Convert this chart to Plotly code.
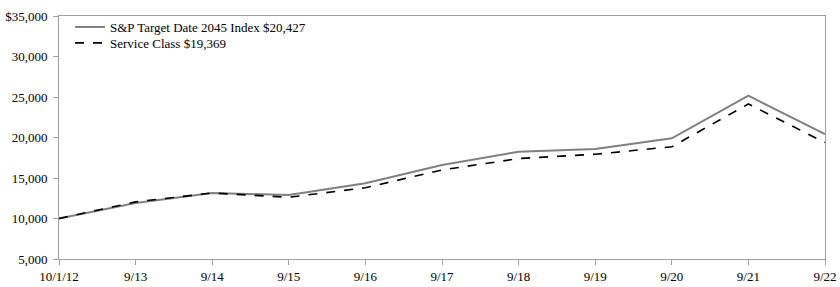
import plotly.graph_objects as go

categories = ["10/1/12", "9/13", "9/14", "9/15", "9/16", "9/17", "9/18", "9/19", "9/20", "9/21", "9/22"]
index_values = [10000, 11900, 13150, 12900, 14350, 16600, 18250, 18580, 19900, 25160, 20427]
service_values = [10000, 12050, 13150, 12620, 13800, 15990, 17400, 17930, 18860, 24140, 19369]
index_name = "S&P Target Date 2045 Index $20,427"
service_name = "Service Class $19,369"
y_tickvals = [5000, 10000, 15000, 20000, 25000, 30000, 35000]
y_ticktext = ["5,000", "10,000", "15,000", "20,000", "25,000", "30,000", "$35,000"]

xpos = list(range(len(categories)))

fig = go.Figure()
fig.add_trace(go.Scatter(x=xpos, y=index_values, mode="lines", name=index_name,
                         line=dict(color="#808080", width=2), legend="legend"))
fig.add_trace(go.Scatter(x=xpos, y=service_values, mode="lines", name=service_name,
                         line=dict(color="#000000", width=1.6, dash="dash"), legend="legend2"))

font_family = "Liberation Serif, Times New Roman, serif"
serif_font = dict(size=13, family=font_family, color="#000000")
leg_common = dict(xanchor="left", yanchor="middle", bgcolor="rgba(0,0,0,0)",
                  font=serif_font, itemwidth=30)
fig.update_layout(
    template="none",
    width=840, height=287,
    margin=dict(l=59, r=15, t=16, b=28, autoexpand=False),
    paper_bgcolor="white", plot_bgcolor="white",
    font=serif_font,
    showlegend=True,
    legend=dict(x=0.0144, y=0.9547, **leg_common),
    legend2=dict(x=0.0144, y=0.889, **leg_common),
)
fig.update_xaxes(range=[0, len(categories) - 1], tickvals=xpos, ticktext=categories,
                 showgrid=False, zeroline=False, showline=True, linecolor="#a0a0a0",
                 linewidth=1, mirror=True, ticks="outside", ticklen=5, tickcolor="#a0a0a0",
                 tickfont=serif_font, automargin=False)
fig.update_yaxes(range=[5000, 35000], tickvals=y_tickvals, ticktext=y_ticktext,
                 showgrid=False, zeroline=False, showline=True, linecolor="#a0a0a0",
                 linewidth=1, mirror=True, ticks="outside", ticklen=5, tickcolor="#a0a0a0",
                 tickfont=serif_font, automargin=False, ticklabelstandoff=3)

fig.write_html("out.html")
